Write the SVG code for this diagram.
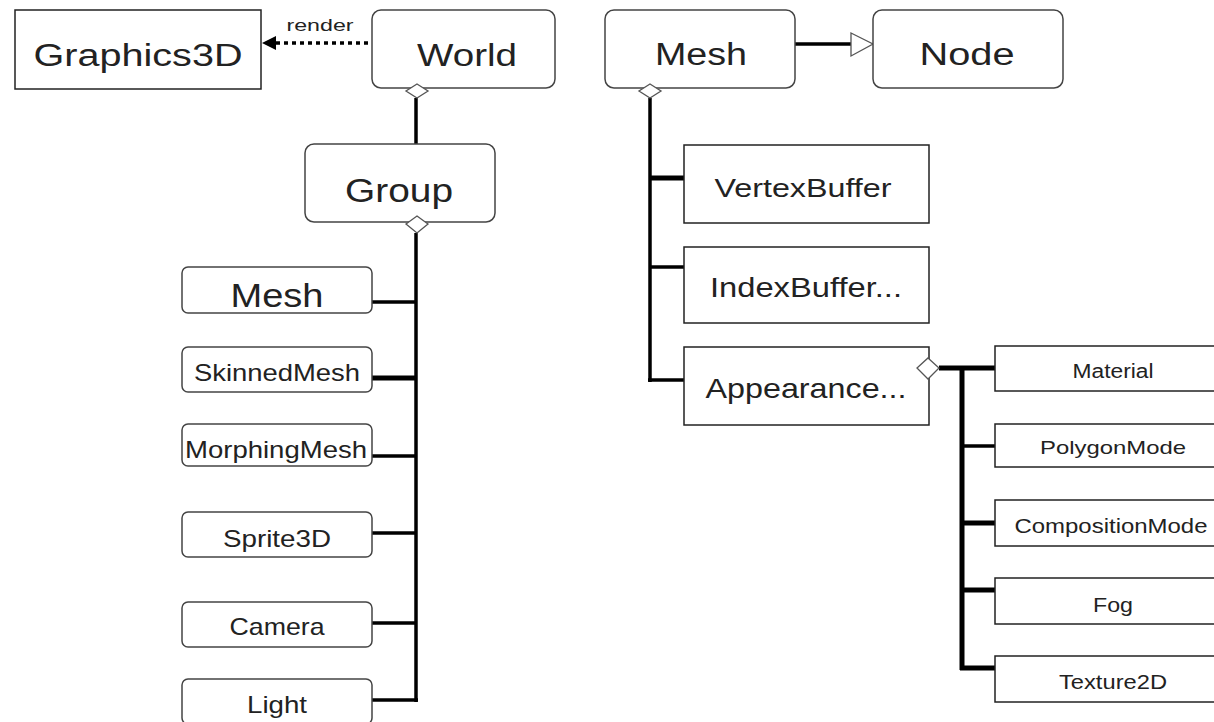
<svg xmlns="http://www.w3.org/2000/svg" width="1214" height="722" viewBox="0 0 1214 722">
<style>
.r{fill:#fff;stroke:#444;stroke-width:1.5}
.s{fill:#fff;stroke:#222;stroke-width:1.5}
text{font-family:"Liberation Sans","DejaVu Sans",sans-serif;fill:#222;text-anchor:middle}
.c{fill:none;stroke:#000;stroke-width:3.5}
.t{fill:none;stroke:#000;stroke-width:5}
.d{fill:#fff;stroke:#555;stroke-width:1.3}
</style>
<rect width="1214" height="722" fill="#fff"/>
<g id="connectors">
<line class="c" x1="276" y1="43" x2="372" y2="43" stroke-dasharray="4 4" stroke-width="4"/>
<polygon points="262,43 276,36 276,50" fill="#000"/>
<text x="320" y="31" font-size="16" textLength="67" lengthAdjust="spacingAndGlyphs">render</text>
<line class="c" x1="416" y1="98" x2="416" y2="145"/>
<line class="c" x1="416" y1="233" x2="416" y2="702"/>
<line class="c" x1="372" y1="302" x2="416" y2="302"/>
<line class="t" x1="372" y1="378" x2="416" y2="378"/>
<line class="c" x1="372" y1="456" x2="416" y2="456"/>
<line class="c" x1="372" y1="533" x2="416" y2="533"/>
<line class="c" x1="372" y1="623" x2="416" y2="623"/>
<line class="c" x1="372" y1="700" x2="418" y2="700"/>
<line class="c" x1="795" y1="44" x2="851" y2="44" stroke-width="4"/>
<polygon points="851,33 873,44 851,56" fill="#fff" stroke="#555" stroke-width="1.3"/>
<line class="c" x1="650" y1="98" x2="650" y2="382" stroke-width="4"/>
<line class="t" x1="650" y1="178" x2="684" y2="178"/>
<line class="c" x1="650" y1="267" x2="684" y2="267"/>
<line class="c" x1="648" y1="380" x2="684" y2="380"/>
<line class="t" x1="939" y1="368" x2="995" y2="368"/>
<line class="t" x1="962" y1="368" x2="962" y2="670"/>
<line class="c" x1="962" y1="446" x2="995" y2="446"/>
<line class="t" x1="962" y1="523" x2="995" y2="523"/>
<line class="t" x1="962" y1="590" x2="995" y2="590"/>
<line class="t" x1="960" y1="668" x2="995" y2="668"/>
</g>
<g id="graphics3d"><rect class="s" x="15" y="10" width="246" height="79"/><text x="138" y="66" font-size="31" textLength="209" lengthAdjust="spacingAndGlyphs">Graphics3D</text></g>
<g id="world"><rect class="r" x="372" y="10" width="183" height="78" rx="9"/><text x="467" y="66" font-size="31" textLength="100" lengthAdjust="spacingAndGlyphs">World</text><polygon class="d" points="417,84 428,91 417,98 406,91"/></g>
<g id="group"><rect class="r" x="305" y="144" width="190" height="78" rx="9"/><text x="399" y="202" font-size="34" textLength="108" lengthAdjust="spacingAndGlyphs">Group</text><polygon class="d" points="417,216 428,224 417,233 406,224"/></g>
<g id="mesh-left"><rect class="r" x="182" y="267" width="190" height="46" rx="6"/><text x="277" y="307" font-size="33" textLength="93" lengthAdjust="spacingAndGlyphs">Mesh</text></g>
<g id="skinnedmesh"><rect class="r" x="182" y="347" width="190" height="45" rx="6"/><text x="277" y="381" font-size="24" textLength="166" lengthAdjust="spacingAndGlyphs">SkinnedMesh</text></g>
<g id="morphingmesh"><rect class="r" x="182" y="424" width="190" height="42" rx="6"/><text x="276" y="458" font-size="24" textLength="182" lengthAdjust="spacingAndGlyphs">MorphingMesh</text></g>
<g id="sprite3d"><rect class="r" x="182" y="512" width="190" height="45" rx="6"/><text x="277" y="547" font-size="24" textLength="108" lengthAdjust="spacingAndGlyphs">Sprite3D</text></g>
<g id="camera"><rect class="r" x="182" y="602" width="190" height="45" rx="6"/><text x="277" y="635" font-size="24" textLength="95" lengthAdjust="spacingAndGlyphs">Camera</text></g>
<g id="light"><rect class="r" x="182" y="679" width="190" height="45" rx="6"/><text x="277" y="713" font-size="24" textLength="60" lengthAdjust="spacingAndGlyphs">Light</text></g>
<g id="mesh-top"><rect class="r" x="605" y="10" width="190" height="78" rx="9"/><text x="701" y="65" font-size="31" textLength="92" lengthAdjust="spacingAndGlyphs">Mesh</text><polygon class="d" points="650,84 661,91 650,98 639,91"/></g>
<g id="node"><rect class="r" x="873" y="10" width="190" height="78" rx="9"/><text x="967" y="65" font-size="31" textLength="95" lengthAdjust="spacingAndGlyphs">Node</text></g>
<g id="vertexbuffer"><rect class="s" x="684" y="145" width="245" height="78"/><text x="803" y="197" font-size="26" textLength="177" lengthAdjust="spacingAndGlyphs">VertexBuffer</text></g>
<g id="indexbuffer"><rect class="s" x="684" y="247" width="245" height="76"/><text x="806" y="297" font-size="27" textLength="192" lengthAdjust="spacingAndGlyphs">IndexBuffer...</text></g>
<g id="appearance"><rect class="s" x="684" y="347" width="245" height="78"/><text x="806" y="398" font-size="28" textLength="201" lengthAdjust="spacingAndGlyphs">Appearance...</text><polygon class="d" points="928,358 939,368 928,379 917,368"/></g>
<g id="material"><rect class="s" x="995" y="346" width="237" height="45"/><text x="1113" y="378" font-size="20" textLength="81" lengthAdjust="spacingAndGlyphs">Material</text></g>
<g id="polygonmode"><rect class="s" x="995" y="424" width="237" height="43"/><text x="1113" y="454" font-size="19" textLength="146" lengthAdjust="spacingAndGlyphs">PolygonMode</text></g>
<g id="compositionmode"><rect class="s" x="995" y="500" width="237" height="46"/><text x="1111" y="533" font-size="20" textLength="193" lengthAdjust="spacingAndGlyphs">CompositionMode</text></g>
<g id="fog"><rect class="s" x="995" y="578" width="237" height="46"/><text x="1113" y="612" font-size="20" textLength="40" lengthAdjust="spacingAndGlyphs">Fog</text></g>
<g id="texture2d"><rect class="s" x="995" y="656" width="237" height="46"/><text x="1113" y="689" font-size="21" textLength="108" lengthAdjust="spacingAndGlyphs">Texture2D</text></g>
</svg>
